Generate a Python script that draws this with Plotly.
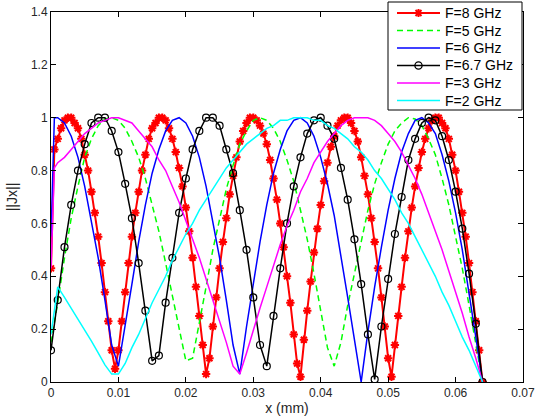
import numpy as np
import plotly.graph_objects as go

# sample positions (mm)
x_fine = np.round(np.linspace(0, 0.064, 129), 5)          # step 0.0005
x_grid = np.round(np.linspace(0, 0.064, 65), 5)           # step 0.001
x_src = np.concatenate([[0.0, 0.0005], x_grid[1:]])       # grid with extra point near source

# F=8 GHz (red, '*')
y_8 = [0.43, 0.88, 0.92, 0.96, 0.99, 1.00, 1.00, 0.98, 0.96, 0.92,
       0.86, 0.80, 0.72, 0.64, 0.55, 0.45, 0.34, 0.23, 0.12, 0.05,
       0.12, 0.23, 0.34, 0.45, 0.55, 0.64, 0.72, 0.80, 0.86, 0.92,
       0.96, 0.98, 1.00, 1.00, 0.99, 0.96, 0.92, 0.87, 0.81, 0.74,
       0.66, 0.57, 0.47, 0.36, 0.25, 0.14, 0.03, 0.09, 0.21, 0.32,
       0.43, 0.53, 0.62, 0.71, 0.78, 0.85, 0.91, 0.95, 0.98, 1.00,
       1.00, 0.99, 0.97, 0.94, 0.90, 0.84, 0.77, 0.69, 0.60, 0.51,
       0.40, 0.30, 0.18, 0.07, 0.02, 0.16, 0.27, 0.38, 0.49, 0.58,
       0.67, 0.76, 0.83, 0.89, 0.93, 0.97, 0.99, 1.00, 1.00, 0.98,
       0.95, 0.91, 0.85, 0.78, 0.71, 0.62, 0.53, 0.43, 0.32, 0.21,
       0.09, 0.02, 0.14, 0.25, 0.36, 0.47, 0.57, 0.66, 0.74, 0.81,
       0.87, 0.92, 0.96, 0.99, 1.00, 1.00, 0.98, 0.96, 0.92, 0.86,
       0.80, 0.72, 0.64, 0.55, 0.45, 0.34, 0.23, 0.12, 0.00]

# F=5 GHz (green dashed)
y_5 = [0.15, 0.30, 0.47, 0.62, 0.74, 0.85, 0.92, 0.97, 0.995, 1.00, 0.99,
       0.96, 0.91, 0.85, 0.77, 0.67, 0.57, 0.45, 0.33, 0.20,
       0.08, 0.09, 0.22, 0.36, 0.50, 0.62, 0.73, 0.82, 0.90,
       0.95, 0.99, 1.00, 0.99, 0.96, 0.91, 0.84, 0.76, 0.65,
       0.54, 0.41, 0.27, 0.13, 0.06, 0.15, 0.29, 0.41, 0.54,
       0.65, 0.75, 0.83, 0.90, 0.95, 0.98, 1.00, 0.995, 0.97,
       0.92, 0.86, 0.77, 0.67, 0.55, 0.43, 0.29, 0.15, 0.00]

# F=6 GHz (blue)
y_6 = [0.55, 1.00,
       1.00, 0.98, 0.93, 0.85, 0.74, 0.61, 0.47, 0.31, 0.14, 0.06,
       0.21, 0.37, 0.53, 0.67, 0.79, 0.88, 0.95, 0.99, 1.00,
       0.98, 0.93, 0.85, 0.74, 0.61, 0.47, 0.31, 0.14, 0.03,
       0.21, 0.37, 0.53, 0.67, 0.79, 0.88, 0.95, 0.99, 1.00,
       0.98, 0.93, 0.85, 0.75, 0.63, 0.48, 0.32, 0.16, 0.00,
       0.19, 0.36, 0.51, 0.65, 0.77, 0.87, 0.94, 0.99, 1.00,
       0.98, 0.94, 0.86, 0.76, 0.64, 0.50, 0.34, 0.17, 0.00]

# F=6.7 GHz (black, 'o')
y_67 = [0.12, 0.31, 0.51, 0.67, 0.80, 0.90, 0.98, 1.00, 1.00, 0.95,
        0.87, 0.75, 0.62, 0.45, 0.27, 0.08, 0.10, 0.30, 0.47, 0.64,
        0.77, 0.88, 0.95, 1.00, 1.00, 0.97, 0.88, 0.79, 0.65, 0.50,
        0.32, 0.14, 0.06, 0.25, 0.43, 0.60, 0.74, 0.85, 0.94, 0.99,
        1.00, 0.97, 0.92, 0.81, 0.69, 0.54, 0.37, 0.18, 0.01, 0.21,
        0.39, 0.56, 0.70, 0.84, 0.92, 0.98, 1.00, 0.99, 0.93, 0.84,
        0.72, 0.58, 0.41, 0.22, 0.00]

# F=3 GHz (magenta)
y_3 = [0.43, 0.81,
       0.83, 0.85, 0.88, 0.91, 0.94, 0.96, 0.98, 0.99, 1.00, 1.00,
       0.99, 0.98, 0.95, 0.92, 0.89, 0.84, 0.80, 0.74, 0.68,
       0.61, 0.54, 0.47, 0.39, 0.31, 0.23, 0.15, 0.06, 0.03,
       0.11, 0.20, 0.28, 0.36, 0.44, 0.52, 0.59, 0.65, 0.72,
       0.77, 0.83, 0.87, 0.91, 0.94, 0.97, 0.99, 1.00, 1.00,
       1.00, 0.99, 0.97, 0.94, 0.91, 0.87, 0.82, 0.77, 0.71,
       0.64, 0.57, 0.50, 0.42, 0.34, 0.26, 0.17, 0.09, 0.00]

# F=2 GHz (cyan)
y_2 = [0.18, 0.36, 0.32, 0.28, 0.24, 0.20, 0.155, 0.11, 0.065, 0.03, 0.03,
       0.07, 0.13, 0.18, 0.24, 0.30, 0.35, 0.40, 0.46, 0.51,
       0.56, 0.60, 0.65, 0.69, 0.73, 0.77, 0.81, 0.84, 0.87,
       0.90, 0.92, 0.94, 0.96, 0.97, 0.99, 0.99, 1.00, 1.00,
       1.00, 0.99, 0.99, 0.97, 0.96, 0.94, 0.92, 0.89, 0.87,
       0.84, 0.80, 0.77, 0.73, 0.69, 0.64, 0.60, 0.55, 0.50,
       0.45, 0.40, 0.34, 0.29, 0.23, 0.17, 0.12, 0.06, 0.00]

series_names = ["F=8 GHz", "F=5 GHz", "F=6 GHz", "F=6.7 GHz", "F=3 GHz", "F=2 GHz"]
series_colors = ["#FF0000", "#00FF00", "#0000FF", "#000000", "#FF00FF", "#00FFFF"]
series_dash = ["solid", "6px,4px", "solid", "solid", "solid", "solid"]
series_marker = ["star", None, None, "circle", None, None]

x_ticks = [0, 0.01, 0.02, 0.03, 0.04, 0.05, 0.06, 0.07]
x_ticklabels = ["0", "0.01", "0.02", "0.03", "0.04", "0.05", "0.06", "0.07"]
y_ticks = [0, 0.2, 0.4, 0.6, 0.8, 1.0, 1.2, 1.4]
y_ticklabels = ["0", "0.2", "0.4", "0.6", "0.8", "1", "1.2", "1.4"]

FONT = "Arial, Liberation Sans, sans-serif"
W, H = 538, 416
ML, MR, MT, MB = 51, 15, 12, 34
PW, PH = W - ML - MR, H - MT - MB

fig = go.Figure()
fig.add_trace(go.Scatter(x=x_fine, y=y_8, name=series_names[0], mode="lines+markers",
                         line=dict(color=series_colors[0], width=2),
                         marker=dict(symbol="asterisk-open", size=7, color=series_colors[0],
                                     line=dict(color=series_colors[0], width=2))))
fig.add_trace(go.Scatter(x=x_grid, y=y_5, name=series_names[1], mode="lines",
                         line=dict(color=series_colors[1], width=1.5, dash=series_dash[1])))
fig.add_trace(go.Scatter(x=x_src, y=y_6, name=series_names[2], mode="lines",
                         line=dict(color=series_colors[2], width=1.5)))
fig.add_trace(go.Scatter(x=x_grid, y=y_67, name=series_names[3], mode="lines+markers",
                         line=dict(color=series_colors[3], width=1.5),
                         marker=dict(symbol="circle-open", size=7, color=series_colors[3],
                                     line=dict(color=series_colors[3], width=1.2))))
fig.add_trace(go.Scatter(x=x_src, y=y_3, name=series_names[4], mode="lines",
                         line=dict(color=series_colors[4], width=1.5)))
fig.add_trace(go.Scatter(x=x_grid, y=y_2, name=series_names[5], mode="lines",
                         line=dict(color=series_colors[5], width=1.5)))


# ---- legend box drawn in pixel layout units (MATLAB style) ----
def px(xp):
    return (xp - ML) / PW


def py(yp):
    return (H - MB - yp) / PH


LEG_L, LEG_T, LEG_R, LEG_B = 388, 2, 522, 110
ROW0, ROW_H = 13, 17.5
SAMP_L, SAMP_R, TEXT_L = 397, 440, 443

shapes = [dict(type="rect", xref="paper", yref="paper", layer="above",
               x0=px(LEG_L), x1=px(LEG_R), y0=py(LEG_B), y1=py(LEG_T),
               fillcolor="white", line=dict(color="black", width=1))]
annotations = []
for i, (nm, col, dsh, mk) in enumerate(zip(series_names, series_colors, series_dash, series_marker)):
    yc = ROW0 + i * ROW_H
    shapes.append(dict(type="line", xref="paper", yref="paper", layer="above",
                       x0=px(SAMP_L), x1=px(SAMP_R), y0=py(yc), y1=py(yc),
                       line=dict(color=col, width=2 if i == 0 else 1.5, dash=dsh)))
    cx = (SAMP_L + SAMP_R) / 2
    if mk == "circle":
        r = 3.6
        shapes.append(dict(type="circle", xref="paper", yref="paper", layer="above",
                           x0=px(cx - r), x1=px(cx + r), y0=py(yc + r), y1=py(yc - r),
                           line=dict(color=col, width=1.3)))
    elif mk == "star":
        a, b = 4, 3
        path = (f"M{px(cx - a)},{py(yc)} L{px(cx + a)},{py(yc)} "
                f"M{px(cx)},{py(yc - a)} L{px(cx)},{py(yc + a)} "
                f"M{px(cx - b)},{py(yc - b)} L{px(cx + b)},{py(yc + b)} "
                f"M{px(cx - b)},{py(yc + b)} L{px(cx + b)},{py(yc - b)}")
        shapes.append(dict(type="path", xref="paper", yref="paper", layer="above",
                           path=path, line=dict(color=col, width=2)))
    annotations.append(dict(xref="paper", yref="paper", x=px(TEXT_L), y=py(yc),
                            xanchor="left", yanchor="middle", showarrow=False,
                            text=nm, font=dict(family=FONT, size=14, color="black")))

axis_common = dict(showline=True, linecolor="black", linewidth=1, mirror="ticks",
                   ticks="inside", ticklen=5, tickcolor="black", showgrid=False,
                   zeroline=False, automargin=False,
                   tickfont=dict(family=FONT, size=12, color="#262626"))
fig.update_xaxes(range=[0, 0.07], tickvals=x_ticks, ticktext=x_ticklabels,
                 title=dict(text="x (mm)", font=dict(family=FONT, size=14, color="#262626"),
                            standoff=2), **axis_common)
fig.update_yaxes(range=[0, 1.4], tickvals=y_ticks, ticktext=y_ticklabels,
                 title=dict(text="||Jx||", font=dict(family=FONT, size=14, color="#262626"),
                            standoff=10), **axis_common)

fig.update_layout(
    width=W, height=H,
    margin=dict(l=ML, r=MR, t=MT, b=MB, autoexpand=False),
    paper_bgcolor="white", plot_bgcolor="white",
    showlegend=False,
    shapes=shapes, annotations=annotations,
)

fig.write_html("out.html")
